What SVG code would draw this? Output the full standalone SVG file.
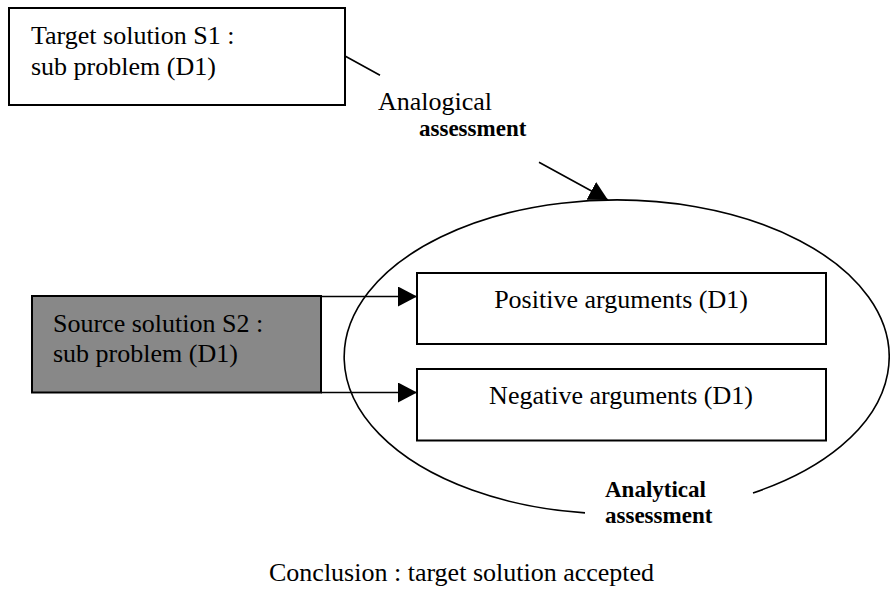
<svg xmlns="http://www.w3.org/2000/svg" width="890" height="604" viewBox="0 0 890 604">
  <style>
    .box { fill: #ffffff; stroke: #000000; stroke-width: 2; }
    .src { fill: #888888; stroke: #000000; stroke-width: 2; }
    text { font-family: 'Liberation Serif', 'Times New Roman', Times, serif; fill: #000000; }
    .t { font-size: 26px; }
    .b { font-size: 23px; font-weight: bold; }
    .ln { fill: none; stroke: #000000; stroke-width: 1.6; }
  </style>
  <defs>
    <marker id="ah" markerUnits="userSpaceOnUse" markerWidth="19" markerHeight="20" refX="19" refY="10" orient="auto">
      <path d="M0,0 L19,10 L0,20 Z" fill="#000000"/>
    </marker>
  </defs>

  <g id="target">
    <rect class="box" x="9" y="8" width="336" height="97"/>
    <text class="t" x="31" y="44" font-family="Liberation Serif, serif">Target solution S1 :</text>
    <text class="t" x="31" y="75" font-family="Liberation Serif, serif">sub problem (D1)</text>
  </g>

  <g id="analytical-assessment">
    <path class="ln" d="M585,512.9 A272.5,157 0 1 1 753,492.9"/>
    <text class="b" x="605" y="497" font-family="Liberation Serif, serif">Analytical</text>
    <text class="b" x="605" y="523" font-family="Liberation Serif, serif">assessment</text>
  </g>

  <g id="source">
    <rect class="src" x="32" y="296" width="289" height="96.5"/>
    <text class="t" x="53" y="332" font-family="Liberation Serif, serif">Source solution S2 :</text>
    <text class="t" x="53" y="362" font-family="Liberation Serif, serif">sub problem (D1)</text>
  </g>

  <g id="positive">
    <rect class="box" x="417" y="273" width="409" height="71"/>
    <text class="t" x="621" y="308" text-anchor="middle" font-family="Liberation Serif, serif">Positive arguments (D1)</text>
  </g>

  <g id="negative">
    <rect class="box" x="417" y="369" width="409" height="71.5"/>
    <text class="t" x="621" y="404" text-anchor="middle" font-family="Liberation Serif, serif">Negative arguments (D1)</text>
  </g>

  <g id="analogical-label">
    <text class="t" x="378" y="110" font-family="Liberation Serif, serif">Analogical</text>
    <text class="b" x="419" y="136" font-family="Liberation Serif, serif">assessment</text>
  </g>

  <g id="connectors">
    <path class="ln" d="M345,56 L380,75.2 M539,162.3 L608,200" marker-end="url(#ah)"/>
    <line class="ln" x1="321" y1="296.5" x2="417" y2="296.5" marker-end="url(#ah)"/>
    <line class="ln" x1="321" y1="392.5" x2="417" y2="392.5" marker-end="url(#ah)"/>
  </g>

  <g id="conclusion">
    <text class="t" x="269" y="581" font-family="Liberation Serif, serif">Conclusion : target solution accepted</text>
  </g>
</svg>
